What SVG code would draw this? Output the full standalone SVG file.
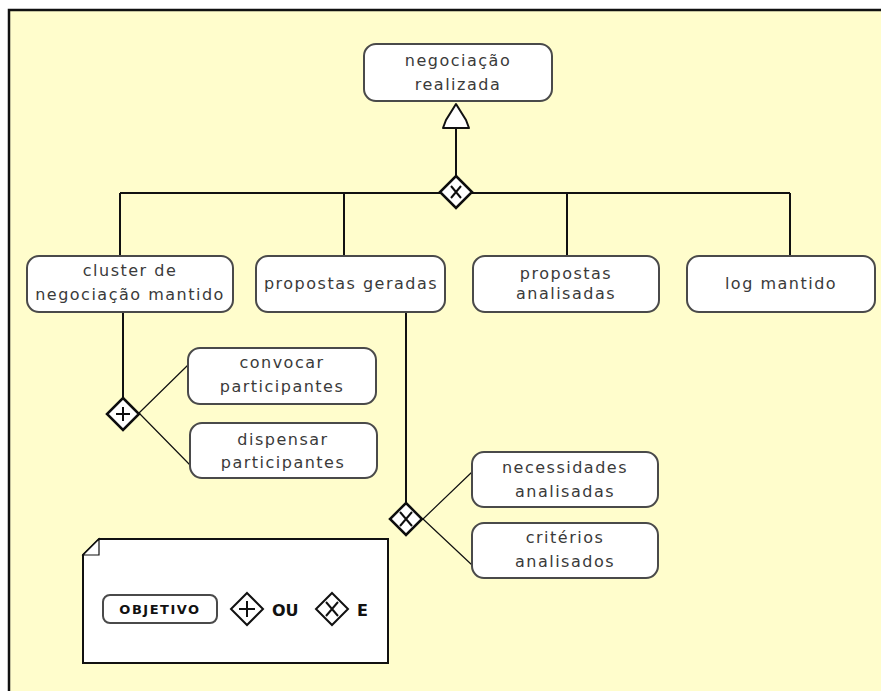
<svg xmlns="http://www.w3.org/2000/svg" width="881" height="691" viewBox="0 0 881 691">
  <defs>
    <style>
      .node rect { fill: #ffffff; stroke: #4a4a4a; stroke-width: 2; }
      .node text { font-family: "DejaVu Sans", Verdana, sans-serif; font-size: 16px; fill: #3a3a3a; text-anchor: middle; letter-spacing: 1.5px; }
      .wire { stroke: #111111; stroke-width: 2; fill: none; }
      .thin { stroke: #111111; stroke-width: 1.2; fill: none; }
      .gate { fill: #ffffff; stroke: #111111; stroke-width: 2.5; }
      .sym { stroke: #111111; stroke-width: 2; fill: none; }
      .legend text { font-family: "DejaVu Sans", Verdana, sans-serif; font-weight: bold; fill: #111111; }
    </style>
    <filter id="soft" x="-10%" y="-10%" width="120%" height="120%">
      <feGaussianBlur stdDeviation="0.4"/>
    </filter>
  </defs>

  <!-- canvas -->
  <rect x="0" y="0" width="881" height="691" fill="#ffffff"/>
  <rect x="9" y="10" width="880" height="690" fill="#fffdcc" stroke="#111111" stroke-width="2.5"/>

  <!-- connectors -->
  <g id="connectors">
    <path class="wire" d="M456,128 V176"/>
    <path class="wire" d="M120,193 H790"/>
    <path class="wire" d="M120,193 V256 M344,193 V256 M567,193 V256 M790,193 V256"/>
    <path class="wire" d="M123,312 V398"/>
    <path class="thin" d="M139,413 L188,365 M139,413 L190,465"/>
    <path class="wire" d="M406,312 V502"/>
    <path class="thin" d="M423,519 L472,472 M423,519 L472,565"/>
    <path d="M456,104 L466,120 L469,128 L443,128 L446,120 Z" fill="#ffffff" stroke="#111111" stroke-width="2" stroke-linejoin="round"/>
  </g>

  <!-- gateways -->
  <g id="gate-top" filter="url(#soft)">
    <polygon class="gate" points="456,176 472,192 456,208 440,192"/>
    <path class="sym" d="M451,186 L461,198 M461,186 L451,198"/>
  </g>
  <g id="gate-cluster" filter="url(#soft)">
    <polygon class="gate" points="123,398 139,414 123,430 107,414"/>
    <path class="sym" d="M116,414 H130 M123,407 V421"/>
  </g>
  <g id="gate-propostas" filter="url(#soft)">
    <polygon class="gate" points="406,503 422,519 406,535 390,519"/>
    <path class="sym" d="M400,512 L412,526 M412,512 L400,526"/>
  </g>

  <!-- goals -->
  <g id="negociacao-realizada" class="node">
    <rect x="364" y="44" width="188" height="57" rx="12"/>
    <text x="458" y="66">negociação</text>
    <text x="458" y="90">realizada</text>
  </g>
  <g id="cluster-negociacao" class="node">
    <rect x="27" y="256" width="206" height="56" rx="12"/>
    <text x="130" y="276">cluster de</text>
    <text x="130" y="300">negociação mantido</text>
  </g>
  <g id="propostas-geradas" class="node">
    <rect x="256" y="256" width="189" height="56" rx="12"/>
    <text x="351" y="289">propostas geradas</text>
  </g>
  <g id="propostas-analisadas" class="node">
    <rect x="473" y="256" width="186" height="56" rx="12"/>
    <text x="566" y="279">propostas</text>
    <text x="566" y="299">analisadas</text>
  </g>
  <g id="log-mantido" class="node">
    <rect x="687" y="256" width="188" height="56" rx="12"/>
    <text x="781" y="289">log mantido</text>
  </g>
  <g id="convocar-participantes" class="node">
    <rect x="188" y="348" width="188" height="56" rx="12"/>
    <text x="282" y="368">convocar</text>
    <text x="282" y="392">participantes</text>
  </g>
  <g id="dispensar-participantes" class="node">
    <rect x="190" y="423" width="187" height="55" rx="12"/>
    <text x="283" y="445">dispensar</text>
    <text x="283" y="468">participantes</text>
  </g>
  <g id="necessidades-analisadas" class="node">
    <rect x="472" y="452" width="186" height="55" rx="12"/>
    <text x="565" y="473">necessidades</text>
    <text x="565" y="497">analisadas</text>
  </g>
  <g id="criterios-analisados" class="node">
    <rect x="472" y="523" width="186" height="55" rx="12"/>
    <text x="565" y="543">critérios</text>
    <text x="565" y="567">analisados</text>
  </g>

  <!-- legend note -->
  <g id="legend" class="legend">
    <path d="M99,539 H388 V663 H83 V555 Z" fill="#ffffff" stroke="#111111" stroke-width="2"/>
    <path d="M83,555 H99 V539 Z" fill="#ffffff" stroke="#111111" stroke-width="1.2"/>
    <rect x="103" y="595" width="114" height="28" rx="7" fill="#ffffff" stroke="#4a4a4a" stroke-width="2"/>
    <text x="160" y="614" font-size="13" text-anchor="middle" letter-spacing="1.5">OBJETIVO</text>
    <polygon points="247,593 263,609 247,625 231,609" fill="#ffffff" stroke="#111111" stroke-width="2"/>
    <path d="M239,609 H255 M247,601 V617" stroke="#111111" stroke-width="2"/>
    <text x="272" y="616" font-size="16">OU</text>
    <polygon points="332,593 348,609 332,625 316,609" fill="#ffffff" stroke="#111111" stroke-width="2"/>
    <path d="M326,602 L338,616 M338,602 L326,616" stroke="#111111" stroke-width="2"/>
    <text x="357" y="616" font-size="16">E</text>
  </g>
</svg>
